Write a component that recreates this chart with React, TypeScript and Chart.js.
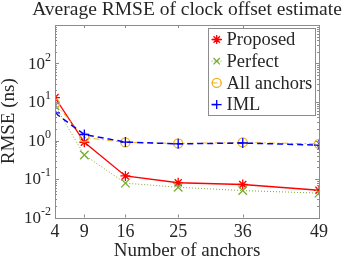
import React, { useEffect, useRef } from "react";
import { Chart, registerables } from "chart.js";

Chart.register(...registerables);

const anchors = [4, 9, 16, 25, 36, 49];
const proposed = [13, 0.9, 0.12, 0.08, 0.072, 0.051];
const perfect = [8, 0.42, 0.078, 0.061, 0.05, 0.043];
const allAnchors = [9.1, 1.2, 0.89, 0.84, 0.89, 0.82];
const iml = [5.2, 1.43, 0.91, 0.82, 0.86, 0.76];
const seriesNames = ["Proposed", "Perfect", "All anchors", "IML"];
const xTicks = [4, 9, 16, 25, 36, 49];
const yTickExps = [-2, -1, 0, 1, 2];
const titleText = "Average RMSE of clock offset estimate";
const xTitle = "Number of anchors";
const yTitle = "RMSE (ns)";

const FONT = '"Liberation Serif", "Times New Roman", serif';
const TEXT = "#262626";
const AXIS = "#8c8c8c";

const styles = [
  { color: "#ff0000", dash: [] as number[], width: 1.3, marker: "star", r: 5 },
  { color: "#77ac30", dash: [1, 2], width: 1, marker: "crossRot", r: 6 },
  { color: "#edb120", dash: [6, 3, 1.5, 3], width: 1, marker: "circle", r: 4.5 },
  { color: "#0000ff", dash: [6, 4], width: 1.5, marker: "cross", r: 5 },
];

function drawMarker(ctx: CanvasRenderingContext2D, m: string, x: number, y: number, r: number, color: string) {
  ctx.save();
  ctx.setLineDash([]);
  ctx.strokeStyle = color;
  ctx.lineWidth = 1.3;
  ctx.beginPath();
  if (m === "circle") {
    ctx.arc(x, y, r, 0, Math.PI * 2);
  } else {
    const drawCross = () => {
      ctx.moveTo(x - r, y);
      ctx.lineTo(x + r, y);
      ctx.moveTo(x, y - r);
      ctx.lineTo(x, y + r);
    };
    const drawRot = () => {
      const d = Math.cos(Math.PI / 4) * r;
      ctx.moveTo(x - d, y - d);
      ctx.lineTo(x + d, y + d);
      ctx.moveTo(x - d, y + d);
      ctx.lineTo(x + d, y - d);
    };
    if (m === "cross") drawCross();
    if (m === "crossRot") drawRot();
    if (m === "star") {
      drawCross();
      drawRot();
    }
  }
  ctx.stroke();
  ctx.restore();
}

const customPlugin = {
  id: "matlabLook",
  afterDraw(chart: any) {
    const ctx: CanvasRenderingContext2D = chart.ctx;
    const { left, right, top, bottom } = chart.chartArea;
    const ys = chart.scales.y;
    const xs = chart.scales.x;
    ctx.save();
    // box
    ctx.strokeStyle = AXIS;
    ctx.lineWidth = 1;
    ctx.setLineDash([]);
    ctx.strokeRect(Math.round(left) + 0.5, Math.round(top) + 0.5, Math.round(right - left), Math.round(bottom - top));
    // y ticks
    ctx.beginPath();
    for (let e = -2; e <= 2; e++) {
      for (let k = 1; k <= 9; k++) {
        const v = k * Math.pow(10, e);
        const py = Math.round(ys.getPixelForValue(v)) + 0.5;
        const len = k === 1 ? 4 : 2;
        ctx.moveTo(left, py);
        ctx.lineTo(left + len, py);
        ctx.moveTo(right, py);
        ctx.lineTo(right - len, py);
      }
    }
    for (const t of xTicks) {
      const px = Math.round(xs.getPixelForValue(t)) + 0.5;
      ctx.moveTo(px, bottom);
      ctx.lineTo(px, bottom - 3);
      ctx.moveTo(px, top);
      ctx.lineTo(px, top + 3);
    }
    ctx.stroke();
    // y tick labels
    ctx.fillStyle = TEXT;
    ctx.textBaseline = "middle";
    for (const e of yTickExps) {
      const py = ys.getPixelForValue(Math.pow(10, e));
      const expStr = String(e);
      ctx.font = `12px ${FONT}`;
      const ew = ctx.measureText(expStr).width;
      const rightEdge = 51;
      ctx.textAlign = "left";
      ctx.fillText(expStr, rightEdge - ew, py - 6);
      ctx.font = `17px ${FONT}`;
      ctx.textAlign = "right";
      ctx.fillText("10", rightEdge - ew, py + 1);
    }
    // x tick labels
    ctx.font = `18px ${FONT}`;
    ctx.textAlign = "center";
    for (const t of xTicks) {
      ctx.fillText(String(t), xs.getPixelForValue(t), 232.5);
    }
    // title
    ctx.font = `19.5px ${FONT}`;
    ctx.textAlign = "center";
    ctx.fillText(titleText, (left + right) / 2, 10);
    // legend
    const lx = 208.5, ly = 28.5, lw = 107, lh = 87;
    ctx.fillStyle = "#ffffff";
    ctx.fillRect(lx, ly, lw, lh);
    ctx.strokeStyle = AXIS;
    ctx.lineWidth = 1;
    ctx.strokeRect(lx, ly, lw, lh);
    ctx.font = `18.5px ${FONT}`;
    ctx.textAlign = "left";
    ctx.textBaseline = "middle";
    seriesNames.forEach((name, i) => {
      const s = styles[i];
      const cy = 39.5 + i * 21.7;
      ctx.strokeStyle = s.color;
      ctx.lineWidth = s.width;
      ctx.setLineDash(s.dash);
      ctx.beginPath();
      ctx.moveTo(211.5, cy);
      ctx.lineTo(222, cy);
      ctx.stroke();
      drawMarker(ctx, s.marker, 216.7, cy, Math.min(s.r, 4.5), s.color);
      ctx.fillStyle = TEXT;
      ctx.fillText(name, 226.5, cy + 1);
    });
    ctx.restore();
  },
};

export default function App() {
  const ref = useRef<HTMLCanvasElement | null>(null);
  useEffect(() => {
    if (!ref.current) return;
    const allSeries = [proposed, perfect, allAnchors, iml];
    const chart = new Chart(ref.current, {
      type: "line",
      data: {
        labels: anchors,
        datasets: allSeries.map((vals, i) => ({
          label: seriesNames[i],
          data: anchors.map((a, j) => ({ x: a, y: vals[j] })),
          borderColor: styles[i].color,
          backgroundColor: "rgba(0,0,0,0)",
          borderWidth: styles[i].width,
          borderDash: styles[i].dash,
          pointStyle: styles[i].marker as any,
          pointRadius: styles[i].r,
          pointBorderWidth: 1.3,
          pointBorderColor: styles[i].color,
          pointBackgroundColor: "rgba(0,0,0,0)",
          tension: 0,
          fill: false,
          order: 3 - i,
        })),
      },
      options: {
        animation: false,
        responsive: false,
        devicePixelRatio: 1,
        layout: { padding: { top: 25, right: 35, left: 0, bottom: 0 } },
        plugins: { legend: { display: false }, tooltip: { enabled: false }, title: { display: false } },
        scales: {
          x: {
            type: "linear",
            min: 4,
            max: 49,
            afterBuildTicks: (scale: any) => {
              scale.ticks = xTicks.map((v) => ({ value: v }));
            },
            afterFit: (scale: any) => {
              scale.height = 43.5;
            },
            grid: { display: false },
            border: { display: false },
            ticks: { display: false },
            title: {
              display: true,
              text: xTitle,
              color: TEXT,
              font: { family: FONT, size: 19, lineHeight: 1 },
              padding: { top: 0, bottom: 0 },
            },
          },
          y: {
            type: "logarithmic",
            min: 0.01,
            max: 1000,
            afterFit: (scale: any) => {
              scale.width = 55;
            },
            grid: { display: false },
            border: { display: false },
            ticks: { display: false },
            title: {
              display: true,
              text: yTitle,
              color: TEXT,
              font: { family: FONT, size: 19, lineHeight: 1 },
              padding: { top: 0, bottom: 0 },
            },
          },
        },
      },
      plugins: [customPlugin],
    });
    return () => chart.destroy();
  }, []);
  return (
    <div style={{ position: "absolute", left: 0, top: 0, width: 354, height: 261, background: "#fff" }}>
      <canvas ref={ref} width={354} height={261} />
    </div>
  );
}
